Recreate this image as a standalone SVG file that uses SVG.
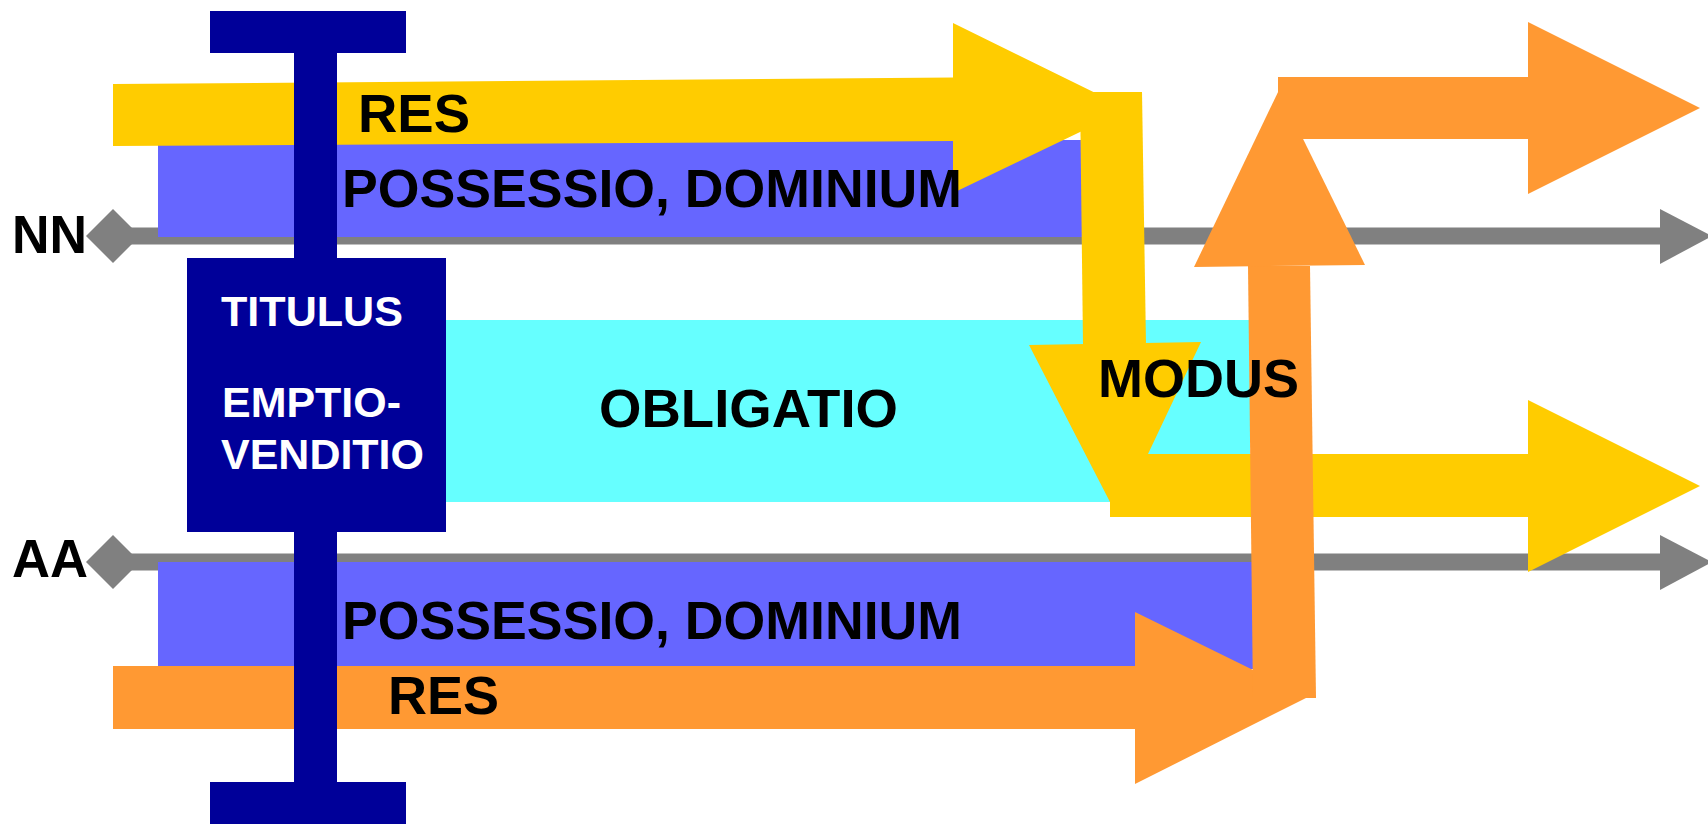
<svg xmlns="http://www.w3.org/2000/svg" width="1708" height="826" viewBox="0 0 1708 826">
<style>
.ax{fill:#808080}
.bl{fill:#6666FF}
.cy{fill:#66FFFF}
.ye{fill:#FFCC00}
.or{fill:#FF9933}
.ib{fill:#000099}
.t{font-family:"Liberation Sans",Arial,sans-serif;font-weight:bold;fill:#000}
.w{font-family:"Liberation Sans",Arial,sans-serif;font-weight:bold;fill:#fff;font-size:42px}
</style>
<rect width="1708" height="826" fill="#fff"/>
<g id="connectors">
<g id="axis-nn" class="ax">
<polygon points="86,236 113,209 140,236 113,263"/>
<rect x="113" y="227.5" width="1550" height="17"/>
<polygon points="1660,209 1712,236 1660,264"/>
</g>
<g id="axis-aa" class="ax">
<polygon points="86,562 113,535 140,562 113,589"/>
<rect x="113" y="553.5" width="1550" height="17"/>
<polygon points="1660,535 1712,562 1660,590"/>
</g>
</g>
<g id="possessio-nn">
<rect class="bl" x="158" y="140" width="924" height="97"/>
</g>
<g id="possessio-aa">
<rect class="bl" x="158" y="562" width="1095" height="107"/>
</g>
<g id="obligatio">
<rect class="cy" x="446" y="320" width="804" height="182"/>
</g>
<g id="res-nn" class="ye">
<polygon points="113,84 953,77.6 953,23 1128,109 953,193 953,141 113,146"/>
<polygon points="1080,92 1142,92 1146,345 1083,345"/>
</g>
<g id="modus" class="ye">
<polygon points="1029,345 1201,342 1148,454 1528,454 1528,400 1700,486 1528,572 1528,517 1110,517 1110,502"/>
</g>
<g id="res-aa" class="or">
<polygon points="113,666 1135,666 1135,612 1308,697 1135,784 1135,729 113,729"/>
<polygon points="1248,266 1310,266 1316,698 1253,698"/>
<polygon points="1279,90 1365,265 1194,267"/>
<polygon points="1278,77 1528,77 1528,22 1700,108 1528,194 1528,139 1278,139"/>
</g>
<g id="titulus">
<rect class="ib" x="210" y="11" width="196" height="42"/>
<rect class="ib" x="294" y="52" width="43" height="732"/>
<rect class="ib" x="187" y="258" width="259" height="274"/>
<rect class="ib" x="210" y="782" width="196" height="42"/>
<text class="w" x="221" y="326" textLength="182" lengthAdjust="spacingAndGlyphs">TITULUS</text>
<text class="w" x="222" y="417" textLength="179" lengthAdjust="spacingAndGlyphs">EMPTIO-</text>
<text class="w" x="221" y="469" textLength="203" lengthAdjust="spacingAndGlyphs">VENDITIO</text>
</g>
<g id="labels" class="t" font-size="54">
<text x="12" y="253" textLength="75" lengthAdjust="spacingAndGlyphs">NN</text>
<text x="12" y="577" textLength="76" lengthAdjust="spacingAndGlyphs">AA</text>
<text x="358" y="132" textLength="112" lengthAdjust="spacingAndGlyphs">RES</text>
<text x="342" y="207" textLength="620" lengthAdjust="spacingAndGlyphs">POSSESSIO, DOMINIUM</text>
<text x="599" y="427" textLength="299" lengthAdjust="spacingAndGlyphs">OBLIGATIO</text>
<text x="1098" y="397" textLength="201" lengthAdjust="spacingAndGlyphs">MODUS</text>
<text x="342" y="639" textLength="620" lengthAdjust="spacingAndGlyphs">POSSESSIO, DOMINIUM</text>
<text x="388" y="714" textLength="111" lengthAdjust="spacingAndGlyphs">RES</text>
</g>
</svg>
